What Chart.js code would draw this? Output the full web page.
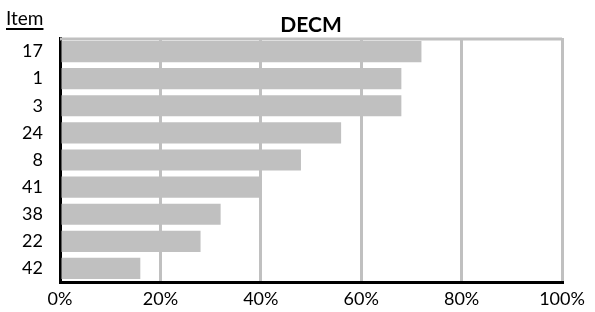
<!DOCTYPE html>
<html>
<head>
<meta charset="utf-8">
<script src="https://cdn.jsdelivr.net/npm/chart.js@4"></script>
<style>
  html, body { margin: 0; padding: 0; background: #fff; }
  #wrap { width: 595px; height: 312px; }
</style>
</head>
<body>
<div id="wrap"><canvas id="chart-area" width="595" height="312"></canvas></div>
<script>
// 資料
var items = ['17', '1', '3', '24', '8', '41', '38', '22', '42'];
var percents = [72, 68, 68, 56, 48, 40, 32, 28, 16];
var xTicks = [0, 20, 40, 60, 80, 100];
var chartTitle = 'DECM';
var axisLabel = 'Item';

var fontName = 'Lato, "Open Sans", sans-serif';

// 標題、Item 標籤、上方灰線
var extras = {
  id: 'extras',
  beforeDatasetsDraw: function(chart) {
    var c = chart.ctx, a = chart.chartArea;
    c.save();
    c.strokeStyle = '#c0c0c0';
    c.lineWidth = 3;
    c.beginPath();
    c.moveTo(a.left, a.top + 1);
    c.lineTo(a.right, a.top + 1);
    c.stroke();
    c.restore();
  },
  afterDraw: function(chart) {
    var c = chart.ctx, a = chart.chartArea;
    c.save();
    c.fillStyle = '#000';
    c.textBaseline = 'alphabetic';
    c.font = 'bold 21px ' + fontName;
    c.textAlign = 'center';
    c.fillText(chartTitle, (a.left + a.right) / 2, 32);
    c.font = '19px ' + fontName;
    c.textAlign = 'left';
    c.fillText(axisLabel, 6, 25);
    var w = c.measureText(axisLabel).width;
    c.fillRect(6, 28, w, 2);
    c.restore();
  }
};

var ctx = document.getElementById('chart-area');
var myChart = new Chart(ctx, {
  type: 'bar',
  data: {
    labels: items,
    datasets: [{
      data: percents,
      backgroundColor: '#c0c0c0',
      borderWidth: 0,
      categoryPercentage: 1,
      barPercentage: 0.78
    }]
  },
  options: {
    indexAxis: 'y',
    responsive: false,
    animation: false,
    layout: { padding: { top: 38, right: 33, left: 0, bottom: 0 } },
    plugins: { legend: { display: false }, tooltip: { enabled: false }, title: { display: false } },
    scales: {
      x: {
        min: 0, max: 100,
        afterBuildTicks: function(s) { s.ticks = xTicks.map(function(v) { return { value: v }; }); },
        afterFit: function(s) { s.height = 30; },
        grid: { color: '#c0c0c0', lineWidth: 3, drawTicks: false },
        border: { color: '#000', width: 3 },
        ticks: {
          padding: 6,
          color: '#000',
          font: { family: fontName, size: 18 },
          callback: function(v) { return v + '%'; }
        }
      },
      y: {
        afterFit: function(s) { s.width = 60; },
        grid: { display: false, drawTicks: false },
        border: { color: '#000', width: 3 },
        ticks: {
          padding: 17,
          color: '#000',
          font: { family: fontName, size: 18 }
        }
      }
    }
  },
  plugins: [extras]
});
</script>
</body>
</html>
